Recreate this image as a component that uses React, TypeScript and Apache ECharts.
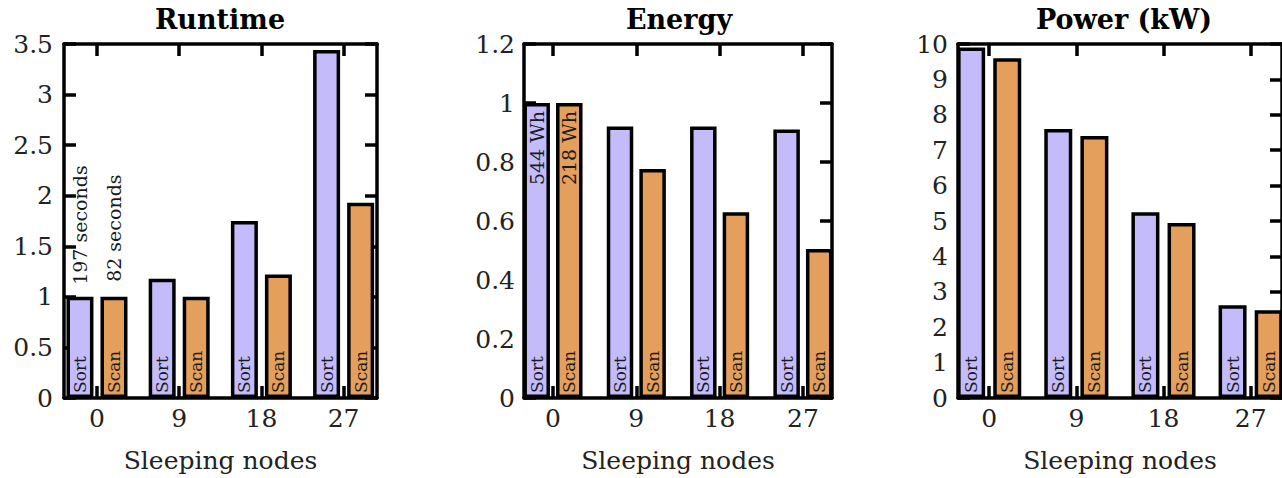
import React, { useEffect, useRef } from 'react';
import * as echarts from 'echarts';

const categories = ['0', '9', '18', '27'];
const seriesNames = ['Sort', 'Scan'];
const titles = ['Runtime', 'Energy', 'Power (kW)'];
const xAxisName = 'Sleeping nodes';

const runtimeSort = [1.0, 1.18, 1.75, 3.44];
const runtimeScan = [1.0, 1.0, 1.22, 1.93];
const energySort = [1.0, 0.92, 0.92, 0.91];
const energyScan = [1.0, 0.776, 0.63, 0.505];
const powerSort = [9.9, 7.6, 5.25, 2.62];
const powerScan = [9.6, 7.4, 4.94, 2.48];

const runtimeNotes = ['197 seconds', '82 seconds'];
const energyNotes = ['544 Wh', '218 Wh'];

const FONT = 'DejaVu Serif';
const LAV = '#C4BBFA';
const ORA = '#E49F5D';

const panels = [
  { title: titles[0], sort: runtimeSort, scan: runtimeScan, notes: runtimeNotes, noteMode: 'above', noteDist: [12, 15],
    left: 64, width: 313, xMin: -0.401, xMax: 3.406, yMax: 3.5, yInterval: 0.5, barWidth: 27, barGap: '26%', yLabelMargin: 11, titleX: 220 },
  { title: titles[1], sort: energySort, scan: energyScan, notes: energyNotes, noteMode: 'inside', noteDist: [8, 8],
    left: 524, width: 308, xMin: -0.348, xMax: 3.349, yMax: 1.2, yInterval: 0.2, barWidth: 26.5, barGap: '23%', yLabelMargin: 9, titleX: 679 },
  { title: titles[2], sort: powerSort, scan: powerScan, notes: null, noteMode: 'none', noteDist: [0, 0],
    left: 958, width: 332, xMin: -0.358, xMax: 3.36, yMax: 10, yInterval: 1, barWidth: 28, barGap: '29%', yLabelMargin: 10, titleX: 1124 },
];

const TOP = 44;
const HEIGHT = 354;

function buildOption() {
  const grid: any[] = [];
  const xAxis: any[] = [];
  const yAxis: any[] = [];
  const series: any[] = [];
  const title: any[] = [];
  const tickVals = categories.map((_, i) => i);
  const line = { show: true, onZero: false, lineStyle: { color: '#000', width: 3.5 } };
  const tick = { show: true, inside: true, length: 12, lineStyle: { color: '#000', width: 3.5 } };

  panels.forEach((p, g) => {
    grid.push({ left: p.left, top: TOP, width: p.width, height: HEIGHT });
    title.push({
      text: p.title, left: p.titleX, top: 6, textAlign: 'center', padding: 0,
      textStyle: { fontFamily: FONT, fontSize: 27, fontWeight: 'bold', color: '#000' },
    });
    xAxis.push({
      type: 'value', gridIndex: g, position: 'bottom', min: p.xMin, max: p.xMax,
      axisLine: line, axisTick: { ...tick, customValues: tickVals }, splitLine: { show: false },
      axisLabel: {
        customValues: tickVals, margin: 8, color: '#222', fontFamily: FONT, fontSize: 25,
        formatter: (v: number) => categories[Math.round(v)] ?? '',
      },
      name: xAxisName, nameLocation: 'middle', nameGap: 50,
      nameTextStyle: { fontFamily: FONT, fontSize: 25, color: '#222' },
    });
    xAxis.push({
      type: 'value', gridIndex: g, position: 'top', min: p.xMin, max: p.xMax,
      axisLine: line, axisTick: { ...tick, customValues: tickVals }, axisLabel: { show: false }, splitLine: { show: false },
    });
    yAxis.push({
      type: 'value', gridIndex: g, position: 'left', min: 0, max: p.yMax, interval: p.yInterval,
      axisLine: line, axisTick: tick, splitLine: { show: false },
      axisLabel: { margin: p.yLabelMargin, color: '#222', fontFamily: FONT, fontSize: 25 },
    });
    yAxis.push({
      type: 'value', gridIndex: g, position: 'right', min: 0, max: p.yMax, interval: p.yInterval,
      axisLine: line, axisTick: tick, axisLabel: { show: false }, splitLine: { show: false },
    });

    const xi = g * 2;
    const yi = g * 2;
    const inBar = (text: string) => ({
      show: true, position: 'insideBottom', distance: 5, rotate: 90, align: 'left', verticalAlign: 'middle',
      formatter: text, fontFamily: FONT, fontSize: 17, color: '#1a1a1a',
    });
    const noteLabel = (text: string, dist: number) => p.noteMode === 'above'
      ? { show: true, formatter: text, position: 'top', distance: dist, rotate: 90, align: 'left', verticalAlign: 'middle', fontFamily: FONT, fontSize: 19, color: '#1a1a1a' }
      : { show: true, formatter: text, position: 'bottom', distance: dist, rotate: 90, align: 'right', verticalAlign: 'middle', fontFamily: FONT, fontSize: 19, color: '#1a1a1a' };

    [p.sort, p.scan].forEach((vals, k) => {
      const s: any = {
        type: 'bar', name: seriesNames[k], xAxisIndex: xi, yAxisIndex: yi,
        barWidth: p.barWidth, barGap: p.barGap,
        data: vals.map((v, i) => [i, v]),
        itemStyle: { color: k === 0 ? LAV : ORA, borderColor: '#000', borderWidth: 3.5 },
        label: inBar(seriesNames[k]),
      };
      if (p.notes) {
        s.markPoint = {
          silent: true,
          symbol: 'circle',
          symbolSize: 0,
          itemStyle: { color: 'rgba(0,0,0,0)' },
          data: [{ coord: [0, vals[0]], label: noteLabel(p.notes[k], p.noteDist[k]) }],
        };
      }
      series.push(s);
    });
  });

  return { animation: false, backgroundColor: '#fff', title, grid, xAxis, yAxis, series };
}

export default function App() {
  const ref = useRef<HTMLDivElement>(null);
  useEffect(() => {
    if (!ref.current) return;
    const chart = echarts.init(ref.current, null, { renderer: 'svg' });
    chart.setOption(buildOption() as any);
    return () => chart.dispose();
  }, []);
  return <div ref={ref} style={{ position: 'fixed', left: 0, top: 0, width: 1282, height: 478 }} />;
}
